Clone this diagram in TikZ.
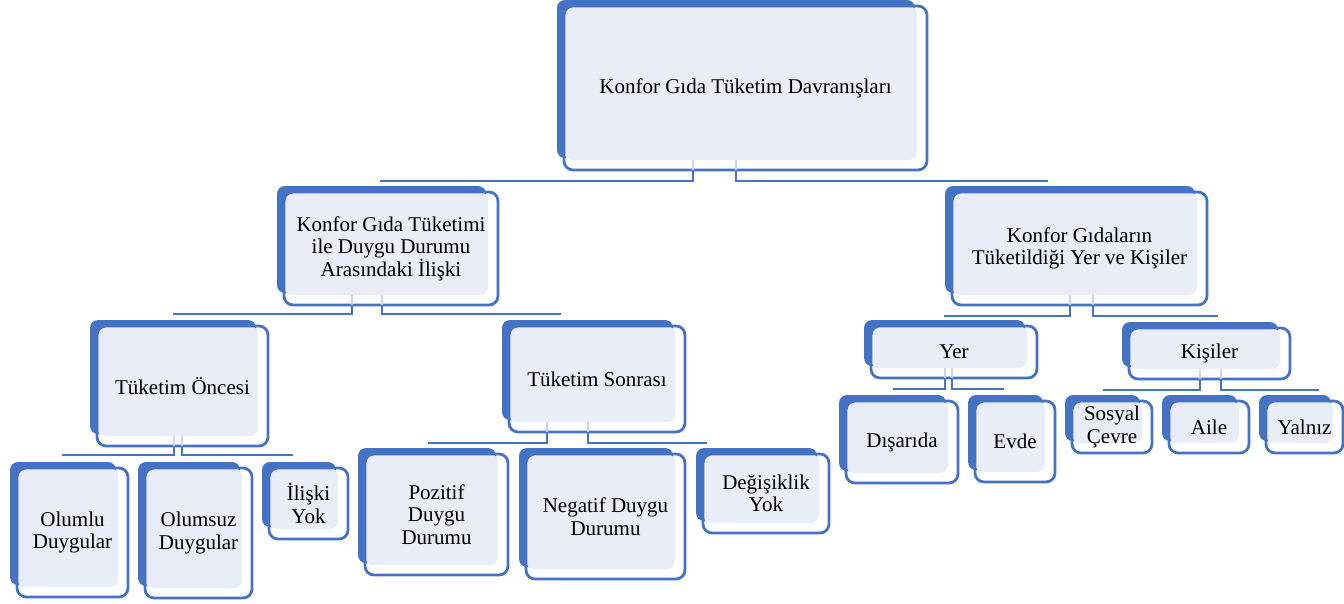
\documentclass[tikz,border=0pt]{standalone}
\usepackage{fontspec}
\setmainfont{Liberation Serif}
\definecolor{backblue}{HTML}{4472C4}
\definecolor{frontfill}{HTML}{E9EDF7}
\definecolor{lineblue}{HTML}{4472C4}
\definecolor{fadeblue}{HTML}{C9D5EE}
\tikzset{
  framebox/.style={draw=lineblue, line width=2.8pt, rounded corners=9pt, inner sep=0pt, outer sep=0pt,
    align=center, font=\fontsize{21}{22.5}\selectfont},
  conn/.style={draw=lineblue, line width=2.8pt},
  connfade/.style={draw=fadeblue, line width=2.8pt}
}
% box: name, blue-back left, blue-back top, frame right, frame bottom, text
\newcommand\cbox[6]{%
  \fill[backblue, rounded corners=8pt] (#2,#3) rectangle ({#4-12},{#5-12});
  \fill[frontfill, rounded corners=8pt] ({#2+7},{#3+6}) rectangle ({#4-10},{#5-10});
  \node[framebox, minimum width={#4-#2-7}, minimum height={#5-#3-6}] (#1) at ({(#2+7+#4)/2},{(#3+6+#5)/2}) {#6};
}
% branch: parent node, x shift, end coordinate
\newcommand\branch[3]{%
  \draw[connfade] ([xshift=#2pt,yshift=10pt]#1.south) -- ([xshift=#2pt]#1.south);
  \draw[conn] ([xshift=#2pt]#1.south) |- (#3);
}
\begin{document}
\begin{tikzpicture}[x=1pt,y=-1pt]
\useasboundingbox (0,0) rectangle (1344,603);

\cbox{top}{557}{0}{927}{170}{Konfor Gıda Tüketim Davranışları}
\cbox{b2}{277}{186}{498}{305}{Konfor Gıda Tüketimi\\ile Duygu Durumu\\Arasındaki İlişki}
\cbox{b3}{945}{186}{1207}{305}{Konfor Gıdaların\\Tüketildiği Yer ve Kişiler}
\cbox{once}{90}{320}{268}{446}{Tüketim Öncesi}
\cbox{sonra}{502}{320}{685}{432}{Tüketim Sonrası}
\cbox{yer}{864}{320}{1037}{378}{Yer}
\cbox{kisi}{1122}{322}{1290}{379}{Kişiler}
\cbox{olumlu}{10}{462}{128}{597}{Olumlu\\Duygular}
\cbox{olumsuz}{138}{462}{252}{598}{Olumsuz\\Duygular}
\cbox{iliski}{262}{462}{348}{539}{İlişki\\Yok}
\cbox{pozitif}{358}{448}{508}{575}{Pozitif\\Duygu\\Durumu}
\cbox{negatif}{519}{448}{685}{579}{Negatif Duygu\\Durumu}
\cbox{degis}{696}{448}{829}{533}{Değişiklik\\Yok}
\cbox{disarida}{839}{395}{958}{483}{Dışarıda}
\cbox{evde}{968}{395}{1055}{482}{Evde}
\cbox{sosyal}{1065}{395}{1152}{453}{Sosyal\\Çevre}
\cbox{aile}{1162}{395}{1249}{453}{Aile}
\cbox{yalniz}{1259}{395}{1343}{453}{Yalnız}

% connector end points
\coordinate (tL) at (380,181);
\coordinate (tR) at (1048,181);
\coordinate (b2L) at (173,314);
\coordinate (b2R) at (561,314);
\coordinate (b3L) at (944,316);
\coordinate (b3R) at (1218,316);
\coordinate (oL) at (62,455);
\coordinate (oR) at (293,455);
\coordinate (sL) at (428,443);
\coordinate (sR) at (707,443);
\coordinate (yL) at (893,389);
\coordinate (yR) at (1004,389);
\coordinate (kL) at (1103,390);
\coordinate (kR) at (1319,390);

\branch{top}{-52.5}{tL}
\branch{top}{-9.5}{tR}
\branch{b2}{-39}{b2L}
\branch{b2}{-9}{b2R}
\branch{b3}{-9.5}{b3L}
\branch{b3}{13.5}{b3R}
\branch{once}{-8.5}{oL}
\branch{once}{-0.5}{oR}
\branch{sonra}{-50}{sL}
\branch{sonra}{-9}{sR}
\branch{yer}{-9}{yL}
\branch{yer}{-2}{yR}
\branch{kisi}{-9.5}{kL}
\branch{kisi}{11.5}{kR}
\end{tikzpicture}
\end{document}
